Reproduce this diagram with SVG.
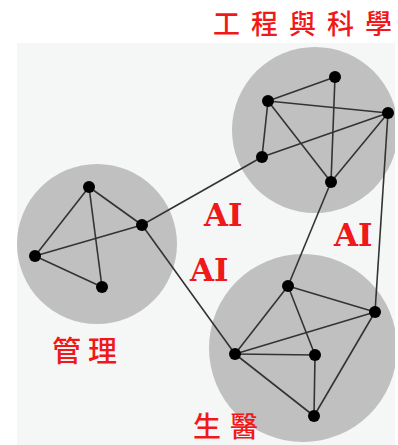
<svg xmlns="http://www.w3.org/2000/svg" width="398" height="445" viewBox="0 0 398 445">
<style>
.cjk{font-family:"Noto Sans CJK TC","Noto Sans CJK SC",sans-serif;fill:#f01818;font-weight:500}
.ai{font-family:"DejaVu Serif",serif;font-weight:bold;fill:#f01818;font-size:31px}
.edge{stroke:#333;stroke-width:1.6;fill:none}
.node{fill:#000}
.cluster{fill:#c0c0c0}
</style>
<defs>
<clipPath id="panel"><rect x="17" y="43" width="378" height="402"/></clipPath>
</defs>
<rect width="398" height="445" fill="#fff"/>
<rect x="17" y="43" width="378" height="402" fill="#f5f7f7"/>
<g id="clusters" clip-path="url(#panel)">
<circle class="cluster" cx="315" cy="130" r="83"/>
<circle class="cluster" cx="97" cy="244" r="80"/>
<circle class="cluster" cx="303" cy="348" r="94"/>
</g>
<g id="connectors" class="edge">
<line x1="268" y1="101" x2="335" y2="77"/>
<line x1="335" y1="77" x2="331" y2="182"/>
<line x1="268" y1="101" x2="388" y2="113"/>
<line x1="268" y1="101" x2="262" y2="157"/>
<line x1="268" y1="101" x2="331" y2="182"/>
<line x1="262" y1="157" x2="388" y2="113"/>
<line x1="388" y1="113" x2="331" y2="182"/>
<line x1="388" y1="113" x2="375" y2="312"/>
<line x1="331" y1="182" x2="288" y2="286"/>
<line x1="262" y1="157" x2="142" y2="225"/>
<line x1="89" y1="187" x2="142" y2="225"/>
<line x1="89" y1="187" x2="35" y2="256"/>
<line x1="89" y1="187" x2="102" y2="287"/>
<line x1="35" y1="256" x2="142" y2="225"/>
<line x1="35" y1="256" x2="102" y2="287"/>
<line x1="142" y1="225" x2="235" y2="354"/>
<line x1="288" y1="286" x2="375" y2="312"/>
<line x1="288" y1="286" x2="235" y2="354"/>
<line x1="288" y1="286" x2="315" y2="355"/>
<line x1="235" y1="354" x2="375" y2="312"/>
<line x1="235" y1="354" x2="315" y2="355"/>
<line x1="235" y1="354" x2="314" y2="416"/>
<line x1="315" y1="355" x2="314" y2="416"/>
<line x1="375" y1="312" x2="314" y2="416"/>
</g>
<g id="n-eng-a"><circle class="node" cx="335" cy="77" r="6"/></g>
<g id="n-eng-b"><circle class="node" cx="268" cy="101" r="6"/></g>
<g id="n-eng-c"><circle class="node" cx="388" cy="113" r="6"/></g>
<g id="n-eng-d"><circle class="node" cx="262" cy="157" r="6"/></g>
<g id="n-eng-e"><circle class="node" cx="331" cy="182" r="6"/></g>
<g id="n-mgmt-a"><circle class="node" cx="89" cy="187" r="6"/></g>
<g id="n-mgmt-b"><circle class="node" cx="142" cy="225" r="6"/></g>
<g id="n-mgmt-c"><circle class="node" cx="35" cy="256" r="6"/></g>
<g id="n-mgmt-d"><circle class="node" cx="102" cy="287" r="6"/></g>
<g id="n-bio-a"><circle class="node" cx="288" cy="286" r="6"/></g>
<g id="n-bio-b"><circle class="node" cx="375" cy="312" r="6"/></g>
<g id="n-bio-c"><circle class="node" cx="235" cy="354" r="6"/></g>
<g id="n-bio-d"><circle class="node" cx="315" cy="355" r="6"/></g>
<g id="n-bio-e"><circle class="node" cx="314" cy="416" r="6"/></g>
<g id="labels">
<text class="cjk" x="213 251 289 327 365" y="34" font-size="27">工程與科學</text>
<text class="cjk" x="52 88" y="362" font-size="29">管理</text>
<text class="cjk" x="193 230" y="437" font-size="28">生醫</text>
<text class="ai" x="204" y="226">AI</text>
<text class="ai" x="190" y="281">AI</text>
<text class="ai" x="334" y="246">AI</text>
</g>
</svg>
